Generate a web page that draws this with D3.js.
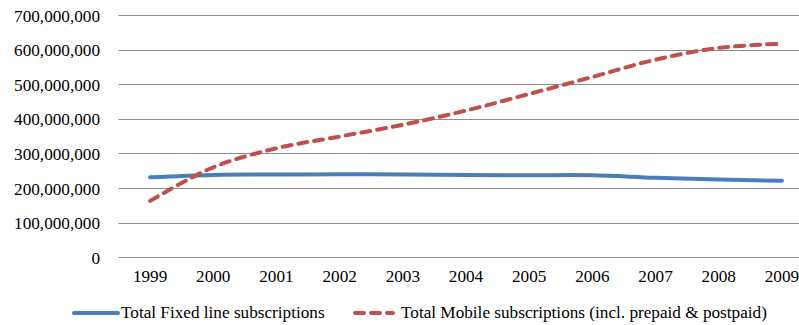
<!DOCTYPE html>
<html>
<head>
<meta charset="utf-8">
<script src="https://cdn.jsdelivr.net/npm/d3@7"></script>
<style>
  html, body { margin: 0; padding: 0; background: #fff; }
  svg { display: block; }
  svg text { font-family: "Liberation Serif", "Times New Roman", serif !important; fill: #000; font-size: 17.2px; }
</style>
</head>
<body>
<div id="chart"></div>
<script>
// Subscriptions by year
const years = ["1999","2000","2001","2002","2003","2004","2005","2006","2007","2008","2009"];
const fixedLine = [231e6, 238e6, 239e6, 240e6, 239e6, 238e6, 237e6, 237e6, 230e6, 225e6, 221e6];
const mobile = [163e6, 260e6, 315e6, 349e6, 383e6, 424e6, 472e6, 521e6, 571e6, 605e6, 617e6];
const yTicks = [0, 100e6, 200e6, 300e6, 400e6, 500e6, 600e6, 700e6];
const seriesNames = ["Total Fixed line subscriptions", "Total Mobile subscriptions (incl. prepaid & postpaid)"];

const W = 799, H = 325;
const svg = d3.select("#chart").append("svg").attr("width", W).attr("height", H);

const x = d3.scaleBand().domain(years).range([118.5, 813.5]);
const y = d3.scaleLinear().domain([0, 700e6]).range([257.3, 15]);

const fmt = d3.format(",");

// horizontal gridlines
svg.append("g").selectAll("line").data(yTicks).join("line")
  .attr("x1", 118.5).attr("x2", 813.5)
  .attr("y1", d => Math.round(y(d)) + 0.5).attr("y2", d => Math.round(y(d)) + 0.5)
  .attr("stroke", "#8c8c8c").attr("stroke-width", 1.2);

// y axis labels
const yAxis = d3.axisLeft(y).tickValues(yTicks).tickFormat(fmt).tickSize(0).tickPadding(0);
const yg = svg.append("g").attr("transform", "translate(100,0)").call(yAxis)
  .attr("font-family", null).attr("font-size", null);
yg.select(".domain").remove();
yg.selectAll("text").attr("dy", "0.35em");

// x axis labels
const xAxis = d3.axisBottom(x).tickSize(0).tickPadding(0);
const xg = svg.append("g").attr("transform", "translate(0,270)").call(xAxis)
  .attr("font-family", null).attr("font-size", null);
xg.select(".domain").remove();
xg.selectAll("text").attr("dy", "0.71em");

const line = d3.line()
  .x((d, i) => x(years[i]) + x.bandwidth() / 2)
  .y(d => y(d))
  .curve(d3.curveCatmullRom.alpha(0.5));

svg.append("path").datum(fixedLine)
  .attr("d", line).attr("fill", "none")
  .attr("stroke", "#4a7ebb").attr("stroke-width", 4).attr("stroke-linecap", "round");

svg.append("path").datum(mobile)
  .attr("d", line).attr("fill", "none")
  .attr("stroke", "#c0504d").attr("stroke-width", 4)
  .attr("stroke-dasharray", "9,7").attr("stroke-linecap", "round");

// legend
const lg = svg.append("g");
lg.append("line").attr("x1", 74).attr("x2", 118).attr("y1", 313).attr("y2", 313)
  .attr("stroke", "#4a7ebb").attr("stroke-width", 4).attr("stroke-linecap", "round");
lg.append("text").attr("x", 121).attr("y", 318).text(seriesNames[0]);
lg.append("line").attr("x1", 355).attr("x2", 393).attr("y1", 313).attr("y2", 313)
  .attr("stroke", "#c0504d").attr("stroke-width", 4).attr("stroke-dasharray", "9,7").attr("stroke-linecap", "round");
lg.append("text").attr("x", 401).attr("y", 318).text(seriesNames[1]);
</script>
</body>
</html>
